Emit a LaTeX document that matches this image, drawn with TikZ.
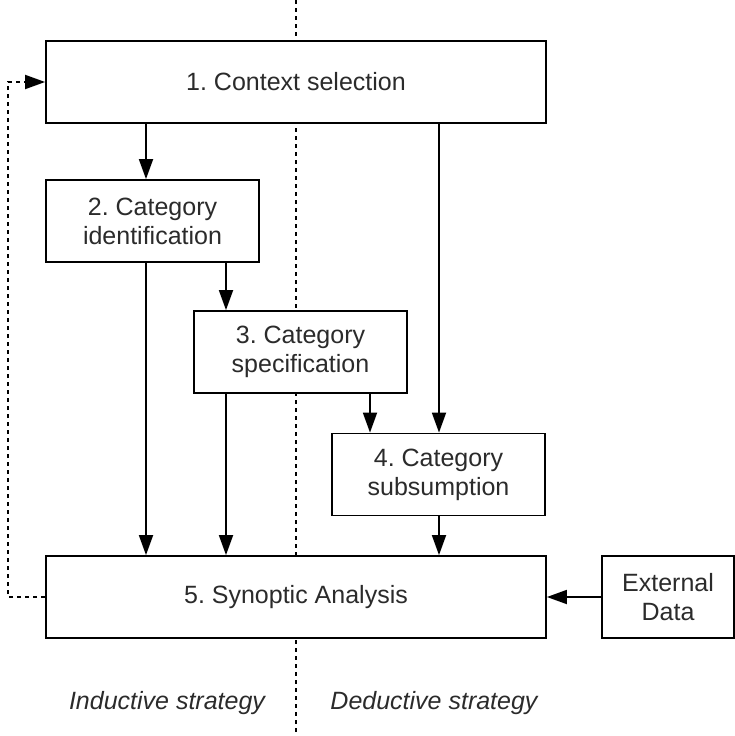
\documentclass[tikz,border=0pt]{standalone}
\usepackage{fontspec}
\setmainfont{Liberation Sans}
\usepackage{xcolor}
\usepackage{tikz}
\usetikzlibrary{positioning, arrows.meta}
\definecolor{mText}{HTML}{2b2b2b}
\frenchspacing

\begin{document}
\begin{tikzpicture}[x=1pt, y=-1pt,
      box/.style={draw=black, fill=white, line width=1.8pt, inner sep=0pt,
                  minimum height=82pt, align=center, text=mText,
                  font=\fontsize{25}{29}\selectfont},
      arr/.style={-{Triangle[length=20pt, width=14pt]}, line width=1.8pt},
      fb/.style={arr, dash pattern=on 4pt off 4pt},
      lbl/.style={text=mText, font=\fontsize{25}{29}\selectfont\itshape}
    ]
    \useasboundingbox (0,0) rectangle (735,736);
    \coordinate (top) at (296,0);
    \coordinate (bottom) at (296,736);
    \draw[line width=1.8pt, dash pattern=on 4pt off 4pt] (top) -- (bottom);
    \node[box, minimum width=500pt] (ctx) at (296,82)    {1. Context selection};
    \node[box, minimum width=213pt] (ident) at (152.5,221) {2. Category\\identification};
    \node[box, minimum width=213pt] (spec) at (300.5,352)  {3. Category\\specification};
    \node[box, minimum width=213pt] (subs) at (438.5,474.5) {4. Category\\subsumption};
    \node[box, minimum width=500pt] (syn) at (296,597)    {5. Synoptic Analysis};
    \node[box, minimum width=132pt] (ext) at (668,597)    {External\\Data};
    \node[lbl] (ind) at (167,703) {Inductive strategy};
    \node[lbl] (ded) at (434,703) {Deductive strategy};
    \draw[arr] (146,0 |- ctx.south) -- (146,0 |- ident.north);
    \draw[arr] (439,0 |- ctx.south) -- (439,0 |- subs.north);
    \draw[arr] (226,0 |- ident.south) -- (226,0 |- spec.north);
    \draw[arr] (146,0 |- ident.south) -- (146,0 |- syn.north);
    \draw[arr] (226,0 |- spec.south) -- (226,0 |- syn.north);
    \draw[arr] (370,0 |- spec.south) -- (370,0 |- subs.north);
    \draw[arr] (439,0 |- subs.south) -- (439,0 |- syn.north);
    \draw[arr] (ext.west) -- (syn.east);
    \draw[fb] (syn.west) -- ++(-37,0) |- (ctx.west);
  \end{tikzpicture}
\end{document}
